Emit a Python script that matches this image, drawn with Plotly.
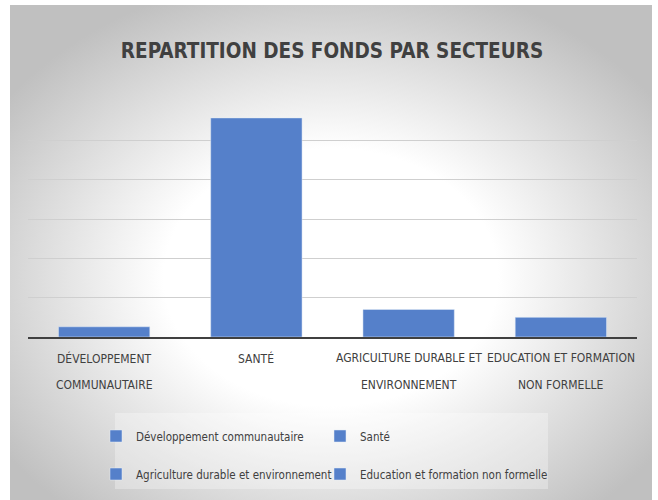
import base64
import plotly.graph_objects as go

# ---- data ----
categories = ["Développement communautaire", "Santé",
              "Agriculture durable et environnement", "Education et formation non formelle"]
axis_labels = [["DÉVELOPPEMENT", "COMMUNAUTAIRE"], ["SANTÉ"],
               ["AGRICULTURE DURABLE ET", "ENVIRONNEMENT"], ["EDUCATION ET FORMATION", "NON FORMELLE"]]
values = [0.26, 5.57, 0.70, 0.50]
title = "REPARTITION DES FONDS PAR SECTEURS"

FONT = "DejaVu Sans Condensed, Roboto, sans-serif"
TXT = "#404040"
BAR = "#5580ca"

W, H = 658, 500
ml, mr, mt, mb = 28, 21, 101, 163
pw, ph = W - ml - mr, H - mt - mb

svg = ('<svg xmlns="http://www.w3.org/2000/svg" width="642" height="495" preserveAspectRatio="none">'
       '<defs><radialGradient id="g" cx="0.5" cy="0.55" r="0.62">'
       '<stop offset="0" stop-color="#ffffff"/><stop offset="0.42" stop-color="#ffffff"/>'
       '<stop offset="1" stop-color="#c0c0c0"/></radialGradient></defs>'
       '<rect width="642" height="495" fill="url(#g)"/></svg>')
src = "data:image/svg+xml;base64," + base64.b64encode(svg.encode()).decode()

# legend slot of each series: (left px, row centre px)
legend_ids = ["legend", "legend2", "legend3", "legend4"]
legend_pos = [(96, 436), (320, 436), (96, 474), (320, 474)]

fig = go.Figure()
for cat, v, lg in zip(categories, values, legend_ids):
    fig.add_trace(go.Bar(x=[cat], y=[v], name=cat, marker_color=BAR, width=0.6,
                         legend=lg, hoverinfo="x+y"))

annotations = []
for cat, lines in zip(categories, axis_labels):
    for i, ln in enumerate(lines):
        annotations.append(dict(x=cat, xref="x", y=0, yref="paper", yanchor="middle",
                                yshift=-21 - 27 * i, text=ln, showarrow=False,
                                font=dict(family=FONT, size=12, color=TXT)))

legends = {}
for lg, (lx, ly) in zip(legend_ids, legend_pos):
    legends[lg] = dict(orientation="h", x=(lx - ml) / pw, xanchor="left",
                       y=(H - mb - ly) / ph, yanchor="middle", bgcolor="rgba(0,0,0,0)",
                       font=dict(family=FONT, size=11.5, color=TXT))

fig.update_layout(
    width=W, height=H, margin=dict(l=ml, r=mr, t=mt, b=mb),
    paper_bgcolor="white", plot_bgcolor="rgba(0,0,0,0)",
    barmode="overlay",
    title=dict(text=title, x=(332 - ml) / pw, xref="paper", xanchor="center",
               y=1 - 51 / H, yanchor="middle",
               font=dict(family=FONT, size=20.5, color=TXT, weight="bold")),
    xaxis=dict(categoryorder="array", categoryarray=categories, showticklabels=False,
               showline=True, linecolor="#404040", linewidth=2, showgrid=False,
               fixedrange=True),
    yaxis=dict(range=[0, 6], dtick=1, showticklabels=False, showgrid=True,
               gridcolor="#cfcfcf", gridwidth=1, zeroline=False, showline=False),
    images=[dict(source=src, xref="paper", yref="paper",
                 x=(10 - ml) / pw, y=(H - mb - 5) / ph, sizex=642 / pw, sizey=495 / ph,
                 xanchor="left", yanchor="top", sizing="stretch", layer="below")],
    shapes=[dict(type="rect", xref="paper", yref="paper",
                 x0=(115 - ml) / pw, x1=(548 - ml) / pw,
                 y0=(H - mb - 489) / ph, y1=(H - mb - 413) / ph,
                 fillcolor="rgba(255,255,255,0.3)", line_width=0, layer="below")],
    annotations=annotations,
    showlegend=True,
    **legends,
)

fig.write_html("out.html", config={"displayModeBar": False},
               post_script="document.body.style.margin='0';document.body.style.padding='0';")
